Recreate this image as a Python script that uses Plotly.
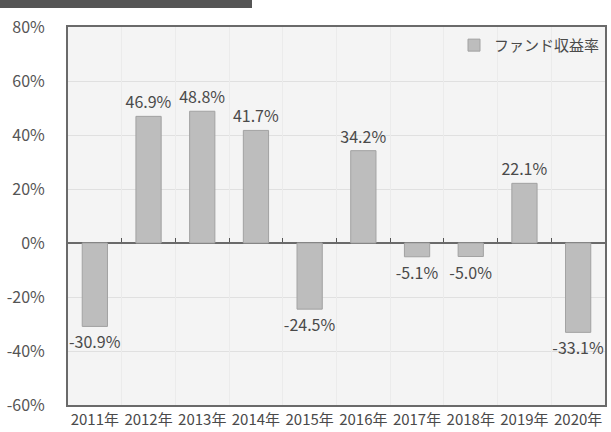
import plotly.graph_objects as go

years = ["2011年", "2012年", "2013年", "2014年", "2015年", "2016年", "2017年", "2018年", "2019年", "2020年"]
returns = [-30.9, 46.9, 48.8, 41.7, -24.5, 34.2, -5.1, -5.0, 22.1, -33.1]
series_name = "ファンド収益率"
y_ticks = [80, 60, 40, 20, 0, -20, -40, -60]

FONT = "Noto Sans CJK JP, Noto Sans, sans-serif"
xs = list(range(len(years)))

W, H = 611, 432
ML, MR, MT, MB = 68, 6, 27, 27
PW, PH = W - ML - MR, H - MT - MB

fig = go.Figure()
fig.add_trace(go.Bar(
    x=xs, y=returns, name=series_name, width=0.47,
    marker=dict(color="#bdbdbd", line=dict(color="#a2a2a2", width=1)),
    text=[f"{v:.1f}%" for v in returns], textposition="outside",
    constraintext="none", textangle=0,
    textfont=dict(size=16, color="#4a4a4a", family=FONT),
    cliponaxis=False, showlegend=True,
))
# invisible helper trace to activate the zero-line axis
fig.add_trace(go.Scatter(x=[-1], y=[0], xaxis="x2", mode="markers",
                         marker=dict(opacity=0), showlegend=False, hoverinfo="skip"))

fig.update_layout(
    width=W, height=H,
    margin=dict(l=ML, r=MR, t=MT, b=MB, autoexpand=False),
    paper_bgcolor="white", plot_bgcolor="#f4f4f4",
    font=dict(family=FONT, color="#4a4a4a"),
    showlegend=True,
    legend=dict(x=1.0, y=0.995, xanchor="right", yanchor="top",
                bgcolor="rgba(0,0,0,0)", font=dict(size=15, color="#4a4a4a")),
    xaxis=dict(range=[-0.5, 9.5], tickvals=xs, ticktext=years,
               showgrid=False, zeroline=False, ticks="", automargin=False,
               tickfont=dict(size=15, color="#4a4a4a"),
               showline=True, linecolor="#6a6a6a", linewidth=2, mirror=True),
    xaxis2=dict(range=[-0.5, 9.5], overlaying="x", anchor="free",
                position=60 / 140, side="top", automargin=False,
                tickvals=[i + 0.5 for i in range(9)], ticks="outside",
                ticklen=4, tickcolor="#555", tickwidth=1,
                showticklabels=False, showgrid=True, gridcolor="#ebebeb",
                zeroline=False, layer="below traces",
                showline=True, linecolor="#6a6a6a", linewidth=2),
    yaxis=dict(range=[-60, 80], tickvals=y_ticks,
               ticktext=[f"{v}%" for v in y_ticks],
               tickfont=dict(size=16, color="#555"), automargin=False,
               showgrid=True, gridcolor="#e0e0e0", gridwidth=1,
               zeroline=False, ticks="", ticklabelstandoff=18,
               showline=True, linecolor="#6a6a6a", linewidth=2, mirror=True),
    shapes=[dict(type="rect", xref="paper", yref="paper",
                 x0=-ML / PW, x1=(252 - ML) / PW,
                 y0=1 + (MT - 8) / PH, y1=1 + MT / PH,
                 fillcolor="#555555", line=dict(width=0))],
)

fig.write_html("out.html", config={"displayModeBar": False},
               post_script="document.body.style.margin='0';document.body.style.overflow='hidden';")
